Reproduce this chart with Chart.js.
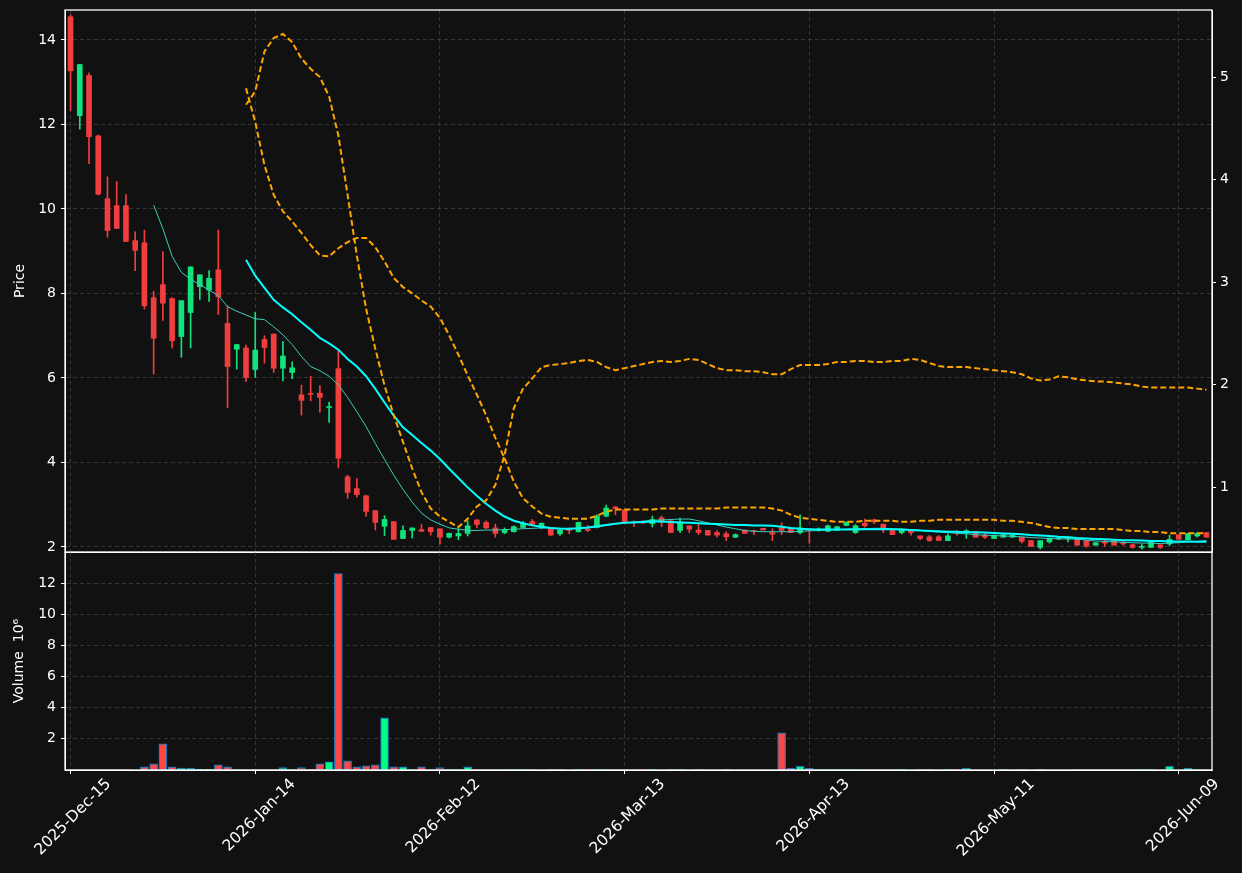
<!DOCTYPE html>
<html><head><meta charset="utf-8">
<script src="https://cdn.jsdelivr.net/npm/chart.js@4.4.1/dist/chart.umd.min.js"></script>
<style>
html,body{margin:0;padding:0;background:#111111;}
#wrap{position:relative;width:1242px;height:873px;background:#111111;overflow:hidden;}
#top{position:absolute;left:0;top:0;}
#bot{position:absolute;left:0;top:552px;}
</style></head><body>
<div id="wrap">
<canvas id="top" width="1242" height="553"></canvas>
<canvas id="bot" width="1242" height="321"></canvas>
</div>
<script>
// ---------- data ----------
const dates = [
'2025-12-15','2025-12-16','2025-12-17','2025-12-18','2025-12-19','2025-12-22','2025-12-23','2025-12-24','2025-12-26','2025-12-29','2025-12-30','2025-12-31',
'2026-01-02','2026-01-05','2026-01-06','2026-01-07','2026-01-08','2026-01-09','2026-01-12','2026-01-13','2026-01-14','2026-01-15','2026-01-16','2026-01-20','2026-01-21','2026-01-22','2026-01-23','2026-01-26','2026-01-27','2026-01-28','2026-01-29','2026-01-30',
'2026-02-02','2026-02-03','2026-02-04','2026-02-05','2026-02-06','2026-02-09','2026-02-10','2026-02-11','2026-02-12','2026-02-13','2026-02-17','2026-02-18','2026-02-19','2026-02-20','2026-02-23','2026-02-24','2026-02-25','2026-02-26','2026-02-27',
'2026-03-02','2026-03-03','2026-03-04','2026-03-05','2026-03-06','2026-03-09','2026-03-10','2026-03-11','2026-03-12','2026-03-13','2026-03-16','2026-03-17','2026-03-18','2026-03-19','2026-03-20','2026-03-23','2026-03-24','2026-03-25','2026-03-26','2026-03-27','2026-03-30','2026-03-31',
'2026-04-01','2026-04-02','2026-04-06','2026-04-07','2026-04-08','2026-04-09','2026-04-10','2026-04-13','2026-04-14','2026-04-15','2026-04-16','2026-04-17','2026-04-20','2026-04-21','2026-04-22','2026-04-23','2026-04-24','2026-04-27','2026-04-28','2026-04-29','2026-04-30',
'2026-05-01','2026-05-04','2026-05-05','2026-05-06','2026-05-07','2026-05-08','2026-05-11','2026-05-12','2026-05-13','2026-05-14','2026-05-15','2026-05-18','2026-05-19','2026-05-20','2026-05-21','2026-05-22','2026-05-26','2026-05-27','2026-05-28','2026-05-29',
'2026-06-01','2026-06-02','2026-06-03','2026-06-04','2026-06-05','2026-06-08','2026-06-09','2026-06-10','2026-06-11','2026-06-12'];

const open = [14.55,12.21,13.16,11.73,10.24,10.08,10.08,9.25,9.20,7.90, 8.21,7.88,6.98,7.55,8.16,8.08,8.56,7.29,6.68,6.71, 6.20,6.91,7.04,6.23,6.13,5.60,5.63,5.64,5.30,6.22, 3.66,3.38,3.21,2.86,2.49,2.60,2.20,2.39,2.41,2.46, 2.43,2.23,2.26,2.32,2.64,2.58,2.45,2.34,2.36,2.46, 2.60,2.45,2.42,2.31,2.42,2.36,2.42,2.46,2.73,2.95, 2.88,2.58,2.59,2.55,2.69,2.62,2.39,2.50,2.40,2.39, 2.34,2.31,2.23,2.40,2.38,2.44,2.34,2.46,2.44,2.34, 2.42,2.40,2.37,2.39,2.51,2.34,2.56,2.64,2.54,2.39, 2.34,2.40,2.26,2.24,2.24,2.15,2.37,2.36,2.37,2.28, 2.20,2.23,2.23,2.23,2.15,1.99,2.12,2.19,2.19,2.18, 2.15,2.04,2.10,2.15,2.10,2.05,1.99,1.99,2.05,2.07, 2.29,2.17,2.26,2.34];
const high = [14.60,13.42,13.22,11.75,10.76,10.65,10.34,9.46,9.50,8.05, 8.99,7.90,7.83,8.63,8.44,8.54,9.50,7.71,6.79,6.78, 7.55,7.00,7.04,6.86,6.38,5.83,6.04,5.82,5.43,6.65, 3.70,3.62,3.23,2.86,2.74,2.60,2.50,2.45,2.53,2.46, 2.43,2.33,2.43,2.62,2.64,2.62,2.54,2.45,2.50,2.60, 2.65,2.57,2.43,2.40,2.45,2.59,2.51,2.76,2.99,2.95, 2.88,2.62,2.61,2.73,2.73,2.62,2.68,2.50,2.54,2.39, 2.39,2.36,2.31,2.40,2.40,2.44,2.43,2.57,2.44,2.76, 2.42,2.45,2.52,2.48,2.60,2.53,2.66,2.66,2.54,2.39, 2.43,2.40,2.26,2.27,2.27,2.31,2.39,2.41,2.37,2.32, 2.28,2.29,2.28,2.23,2.15,2.15,2.21,2.23,2.24,2.18, 2.15,2.10,2.16,2.15,2.15,2.07,2.06,2.13,2.05,2.28, 2.29,2.32,2.34,2.34];
const low = [12.33,11.89,11.07,10.33,9.33,9.54,9.23,8.54,7.63,6.09, 7.36,6.71,6.49,6.71,7.86,7.81,7.50,5.30,6.21,5.91, 6.01,6.35,6.13,5.93,5.98,5.12,5.46,5.19,4.95,3.87, 3.15,3.18,2.72,2.40,2.27,2.18,2.20,2.21,2.36,2.28, 2.07,2.21,2.17,2.26,2.45,2.43,2.23,2.31,2.35,2.44, 2.51,2.43,2.27,2.27,2.31,2.35,2.36,2.45,2.71,2.76, 2.56,2.48,2.55,2.47,2.48,2.34,2.34,2.34,2.29,2.28, 2.23,2.15,2.22,2.32,2.29,2.40,2.15,2.29,2.34,2.31, 2.09,2.37,2.36,2.39,2.50,2.32,2.47,2.55,2.34,2.29, 2.31,2.28,2.17,2.13,2.15,2.15,2.28,2.20,2.23,2.20, 2.20,2.23,2.23,2.09,2.01,1.95,2.09,2.17,2.12,2.04, 1.99,2.04,2.01,2.04,2.04,1.97,1.95,1.99,1.96,2.03, 2.18,2.17,2.23,2.23];
const close = [13.27,13.42,11.71,10.35,9.49,9.54,9.23,9.02,7.71,6.94, 7.77,6.88,7.83,8.63,8.44,8.36,7.92,6.27,6.79,6.01, 6.66,6.72,6.23,6.52,6.24,5.47,5.61,5.54,5.32,4.10, 3.29,3.24,2.84,2.58,2.65,2.18,2.39,2.45,2.37,2.36, 2.23,2.32,2.32,2.50,2.53,2.45,2.32,2.40,2.48,2.56, 2.53,2.56,2.28,2.40,2.39,2.58,2.39,2.73,2.92,2.91, 2.56,2.57,2.57,2.65,2.58,2.34,2.59,2.42,2.34,2.28, 2.28,2.24,2.29,2.32,2.36,2.40,2.30,2.39,2.34,2.45, 2.40,2.42,2.50,2.48,2.58,2.50,2.50,2.59,2.43,2.29, 2.40,2.34,2.20,2.15,2.15,2.26,2.34,2.37,2.23,2.23, 2.28,2.29,2.28,2.13,2.01,2.15,2.21,2.21,2.20,2.04, 2.02,2.10,2.09,2.04,2.07,1.99,2.00,2.13,1.99,2.18, 2.18,2.32,2.32,2.23];
const volume = [30000,30000,30000,30000,30000,30000,30000,0,200000,400000, 1680000,200000,130000,130000,40000,40000,330000,200000,30000,30000, 30000,30000,30000,150000,30000,150000,40000,400000,530000,12620000, 590000,200000,270000,330000,3350000,200000,200000,30000,200000,30000, 150000,30000,30000,200000,30000,30000,30000,30000,30000,30000, 30000,0,30000,30000,0,30000,30000,30000,30000,30000, 30000,30000,30000,30000,0,30000,30000,0,30000,0, 0,30000,0,0,0,0,0,2380000,100000,250000, 100000,30000,30000,30000,30000,30000,30000,30000,30000,30000, 30000,0,30000,30000,0,30000,30000,130000,0,0, 0,30000,0,30000,0,30000,0,0,0,30000, 30000,30000,30000,30000,30000,30000,30000,30000,0,250000, 0,120000,30000,30000];
const ma10 = [null,null,null,null,null,null,null,null,null,10.09, 9.53,8.88,8.50,8.34,8.21,8.08,7.95,7.69,7.58,7.49, 7.40,7.38,7.21,7.02,6.79,6.51,6.27,6.17,6.04,5.84, 5.54,5.20,4.85,4.45,4.07,3.70,3.36,3.06,2.80,2.64, 2.54,2.45,2.42,2.39,2.39,2.40,2.40,2.41,2.42,2.43, 2.44,2.45,2.45,2.44,2.43,2.44,2.45,2.47,2.51,2.55, 2.57,2.59,2.61,2.63,2.64,2.65,2.66,2.66,2.62,2.57, 2.52,2.47,2.43,2.39,2.37,2.36,2.36,2.36,2.36,2.37, 2.38,2.39,2.40,2.41,2.42,2.43,2.43,2.44,2.44,2.43, 2.42,2.41,2.39,2.37,2.35,2.34,2.32,2.31,2.29,2.28, 2.27,2.26,2.25,2.24,2.22,2.21,2.20,2.19,2.19,2.18, 2.16,2.14,2.13,2.12,2.11,2.10,2.09,2.09,2.08,2.09, 2.10,2.12,2.13,2.15];
const ma20 = [null,null,null,null,null,null,null,null,null,null, null,null,null,null,null,null,null,null,null,8.80, 8.42,8.13,7.85,7.67,7.51,7.32,7.14,6.95,6.82,6.67, 6.45,6.27,6.04,5.74,5.42,5.11,4.83,4.65,4.46,4.28, 4.08,3.85,3.63,3.41,3.21,3.02,2.86,2.72,2.62,2.56, 2.51,2.48,2.45,2.43,2.43,2.44,2.46,2.49,2.52,2.55, 2.57,2.58,2.59,2.60,2.60,2.59,2.58,2.57,2.56,2.55, 2.54,2.53,2.52,2.52,2.51,2.51,2.50,2.48,2.45,2.43, 2.42,2.41,2.41,2.41,2.41,2.41,2.42,2.42,2.42,2.42, 2.41,2.40,2.39,2.38,2.37,2.36,2.36,2.35,2.35,2.34, 2.33,2.32,2.31,2.30,2.28,2.27,2.26,2.24,2.23,2.21, 2.20,2.19,2.18,2.17,2.16,2.16,2.15,2.14,2.14,2.13, 2.13,2.13,2.12,2.12];
const rightSeriesA = [null,null,null,null,null,null,null,null,null,null, null,null,null,null,null,null,null,null,null,4.73, 4.86,5.25,5.38,5.42,5.34,5.18,5.08,5.00,4.81,4.43, 3.85,3.26,2.74,2.35,1.99,1.70,1.44,1.18,0.95,0.79, 0.71,0.66,0.61,0.69,0.81,0.87,1.02,1.31,1.77,1.96, 2.06,2.17,2.19,2.20,2.21,2.23,2.24,2.22,2.17,2.14, 2.16,2.18,2.20,2.22,2.23,2.22,2.23,2.25,2.24,2.20, 2.16,2.14,2.14,2.13,2.13,2.12,2.10,2.10,2.15,2.19, 2.19,2.19,2.20,2.22,2.22,2.23,2.23,2.22,2.22,2.23, 2.23,2.25,2.24,2.21,2.18,2.17,2.17,2.17,2.16,2.15, 2.14,2.13,2.12,2.10,2.06,2.04,2.05,2.08,2.07,2.05, 2.04,2.03,2.03,2.02,2.01,2.00,1.98,1.97,1.97,1.97, 1.97,1.97,1.96,1.95];
const rightSeriesB = [null,null,null,null,null,null,null,null,null,null, null,null,null,null,null,null,null,null,null,4.89, 4.56,4.14,3.85,3.69,3.59,3.48,3.36,3.26,3.25,3.33, 3.39,3.43,3.43,3.34,3.20,3.04,2.95,2.89,2.82,2.76, 2.65,2.48,2.29,2.09,1.90,1.70,1.48,1.28,1.05,0.89, 0.81,0.74,0.71,0.70,0.69,0.69,0.69,0.72,0.76,0.78, 0.78,0.78,0.78,0.78,0.79,0.79,0.79,0.79,0.79,0.79, 0.79,0.80,0.80,0.80,0.80,0.80,0.79,0.77,0.73,0.70, 0.69,0.68,0.67,0.66,0.66,0.66,0.67,0.67,0.67,0.67, 0.66,0.66,0.67,0.67,0.68,0.68,0.68,0.68,0.68,0.68, 0.68,0.67,0.67,0.66,0.65,0.63,0.61,0.60,0.60,0.59, 0.59,0.59,0.59,0.59,0.58,0.57,0.57,0.56,0.56,0.55, 0.55,0.55,0.55,0.55];

const xTickIndex = [0,20,40,60,80,100,120];
const priceTicks = [2,4,6,8,10,12,14];
const rightTicks = [1,2,3,4,5];
const volumeTicks = [2000000,4000000,6000000,8000000,10000000,12000000];
const monthNames = ['Jan','Feb','Mar','Apr','May','Jun','Jul','Aug','Sep','Oct','Nov','Dec'];

// ---------- styles ----------
const UP = '#12e27c', DOWN = '#f03e3e';
const VUP = '#00ff80', VDOWN = '#ff4646';
const GRID = '#3a3a3a';
const FONT = 'DejaVu Sans';
const TXT = '#ffffff';

function fmtDate(s){ const [y,m,d] = s.split('-'); return y + '-' + monthNames[+m-1] + '-' + d; }
const isUp = open.map((o,i)=> close[i] >= o);
const idx = open.map((_,i)=>i);
const pts = arr => arr.map((v,i)=> v===null ? null : {x:i, y:v}).filter(p=>p);

const framePlugin = { id:'frame', afterDraw(chart){
  const {ctx, chartArea:a} = chart; ctx.save(); ctx.strokeStyle = '#ffffff'; ctx.lineWidth = 1.3;
  ctx.strokeRect(a.left, a.top, a.right-a.left, a.bottom-a.top); ctx.restore(); } };

Chart.defaults.font.family = FONT;

function noPad(s){ s.paddingTop = 0; s.paddingBottom = 0; s.paddingLeft = 0; s.paddingRight = 0; }

function xScale(showLabels){
  return {
    type:'linear', min:-0.6, max:123.6, offset:false,
    afterBuildTicks: s => { s.ticks = xTickIndex.map(v=>({value:v})); },
    afterFit: s => { s.height = showLabels ? 103 : 0; noPad(s); },
    ticks: { display: showLabels, autoSkip:false, minRotation:45, maxRotation:45, color:TXT,
      font:{size:15.5}, padding:1, labelOffset:38, callback: v => fmtDate(dates[v]) },
    grid: { offset:false, color:GRID, lineWidth:0.9, drawTicks: showLabels, tickLength:4, tickColor:'#ffffff', tickWidth:1 },
    border: { color:'#ffffff', width:1, dash:[4,3] }
  };
}

// ---------- price panel ----------
new Chart(document.getElementById('top'), {
  type:'bar',
  data:{ datasets:[
    { label:'wick', data: idx.map(i=>({x:i, y:[low[i], high[i]]})), backgroundColor: isUp.map(u=>u?UP:DOWN),
      barThickness:1, grouped:false, order:4, minBarLength:1, yAxisID:'y' },
    { label:'body', data: idx.map(i=>({x:i, y:[open[i], close[i]]})), backgroundColor: isUp.map(u=>u?UP:DOWN),
      barThickness:5, grouped:false, order:3, minBarLength:1, yAxisID:'y' },
    { type:'line', label:'MA10', data: pts(ma10), borderColor:'#3ccfbe', borderWidth:1, pointRadius:0, tension:0, order:2, yAxisID:'y' },
    { type:'line', label:'MA20', data: pts(ma20), borderColor:'#00ffff', borderWidth:2, pointRadius:0, tension:0, order:1, yAxisID:'y' },
    { type:'line', label:'A', data: pts(rightSeriesA), borderColor:'#ffa500', borderWidth:2, borderDash:[6,3], pointRadius:0, tension:0, order:0, yAxisID:'y2' },
    { type:'line', label:'B', data: pts(rightSeriesB), borderColor:'#ffa500', borderWidth:2, borderDash:[6,3], pointRadius:0, tension:0, order:0, yAxisID:'y2' }
  ]},
  options:{
    responsive:false, animation:false, devicePixelRatio:1,
    layout:{ padding:{ left:0, right:0, top:10, bottom:1 } },
    plugins:{ legend:{display:false}, tooltip:{enabled:false} },
    scales:{
      x: xScale(false),
      y: { type:'linear', position:'left', min:1.88, max:14.71,
        afterBuildTicks: s => { s.ticks = priceTicks.map(v=>({value:v})); },
        afterFit: s => { s.width = 65; noPad(s); },
        ticks:{ color:TXT, font:{size:14}, padding:5, callback: v => String(v) },
        grid:{ offset:false, color:GRID, lineWidth:0.9, tickLength:4, tickColor:'#ffffff', tickWidth:1 },
        border:{ color:'#ffffff', width:1, dash:[4,3] },
        title:{ display:true, text:'Price', color:TXT, font:{size:14}, padding:{top:12, bottom:0} } },
      y2: { type:'linear', position:'right', min:0.366, max:5.654,
        afterBuildTicks: s => { s.ticks = rightTicks.map(v=>({value:v})); },
        afterFit: s => { s.width = 30; noPad(s); },
        ticks:{ color:TXT, font:{size:14}, padding:4, callback: v => String(v) },
        grid:{ drawOnChartArea:false, tickLength:4, tickColor:'#ffffff', tickWidth:1 },
        border:{ color:'#ffffff', width:1 } }
    }
  },
  plugins:[framePlugin]
});

// ---------- volume panel ----------
new Chart(document.getElementById('bot'), {
  type:'bar',
  data:{ datasets:[
    { label:'Volume', data: idx.map(i=>({x:i, y:volume[i]})), backgroundColor: isUp.map(u=>u?VUP:VDOWN),
      borderColor:'#1f77b4', borderWidth:1.2, borderSkipped:false, barThickness:8, grouped:false }
  ]},
  options:{
    responsive:false, animation:false, devicePixelRatio:1,
    layout:{ padding:{ left:0, right:30, top:0, bottom:0 } },
    plugins:{ legend:{display:false}, tooltip:{enabled:false} },
    scales:{
      x: xScale(true),
      y: { type:'linear', position:'left', min:0, max:14000000,
        afterBuildTicks: s => { s.ticks = volumeTicks.map(v=>({value:v})); },
        afterFit: s => { s.width = 65; noPad(s); },
        ticks:{ color:TXT, font:{size:14}, padding:5, callback: v => String(v/1000000) },
        grid:{ offset:false, color:GRID, lineWidth:0.9, tickLength:4, tickColor:'#ffffff', tickWidth:1 },
        border:{ color:'#ffffff', width:1, dash:[4,3] },
        title:{ display:true, text:'Volume  10\u2076', color:TXT, font:{size:14}, padding:{top:11, bottom:0} } }
    }
  },
  plugins:[framePlugin]
});
</script>
</body></html>
